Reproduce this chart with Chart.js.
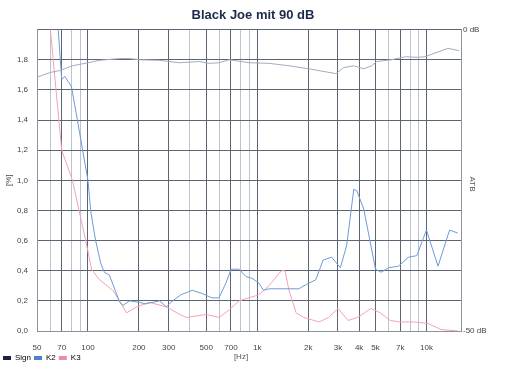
<!DOCTYPE html>
<html>
<head>
<meta charset="utf-8">
<script src="https://cdn.jsdelivr.net/npm/chart.js@4/dist/chart.umd.min.js"></script>
<style>
    html, body { margin: 0; padding: 0; background: #fff; }
</style>
</head>
<body>
<canvas id="chart" width="506" height="377"></canvas>
<script>
// x axis: grid lines and labelled frequencies
const gridFreqs = [50, 60, 70, 80, 90, 100, 200, 300, 400, 500, 600, 700, 800, 900,
    1000, 2000, 3000, 4000, 5000, 6000, 7000, 8000, 9000, 10000];
const labelFreqs = [50, 70, 100, 200, 300, 500, 700, 1000, 2000, 3000, 4000, 5000, 7000, 10000];
const labelTexts = ['50', '70', '100', '200', '300', '500', '700', '1k', '2k', '3k', '4k', '5k', '7k', '10k'];

// Sign: level in dB (right axis)
const signFreq = [50, 60, 68, 81, 100, 117, 154, 176, 202, 265, 348, 455, 520, 595, 684, 900,
    1175, 1540, 2020, 2310, 2916, 3250, 3720, 4260, 4750, 5090, 6200, 7500, 8900, 9800, 13400, 15600];
const signDb = [-7.9, -7.1, -6.8, -6.0, -5.5, -5.1, -4.8, -4.8, -5.0, -5.1, -5.5, -5.3, -5.6, -5.5, -5.0, -5.5,
    -5.6, -6.0, -6.5, -6.8, -7.3, -6.3, -6.0, -6.5, -6.0, -5.3, -5.0, -4.5, -4.6, -4.5, -3.1, -3.5];

// K2 distortion in %
const k2Freq = [58, 62, 70, 73, 80, 100, 104, 111, 119, 125, 134, 154, 161, 176, 202, 218, 265, 291, 309,
    353, 413, 470, 540, 595, 654, 702, 781, 860, 930, 1020, 1090, 1175, 1340, 1540, 1760, 1960, 2220,
    2450, 2750, 3100, 3380, 3720, 3880, 4260, 5000, 5400, 5980, 6830, 7850, 8770, 10000, 11700, 13700, 15300];
const k2Val = [3.4, 2.5, 1.67, 1.69, 1.62, 1.0, 0.79, 0.6, 0.45, 0.39, 0.37, 0.19, 0.17, 0.2, 0.19, 0.18, 0.2, 0.16, 0.19,
    0.24, 0.27, 0.25, 0.22, 0.22, 0.32, 0.41, 0.41, 0.36, 0.35, 0.32, 0.27, 0.28, 0.28, 0.28, 0.28, 0.31, 0.34,
    0.47, 0.49, 0.42, 0.57, 0.94, 0.93, 0.81, 0.41, 0.39, 0.42, 0.43, 0.49, 0.5, 0.67, 0.43, 0.67, 0.65];

// K3 distortion in %
const k3Freq = [54, 60, 66, 70, 81, 91, 100, 105, 117, 140, 154, 169, 194, 230, 291, 348, 381, 437, 500,
    595, 684, 781, 895, 1020, 1175, 1390, 1460, 1540, 1700, 1880, 2320, 2640, 3010, 3440, 3920, 4700,
    5350, 6110, 6980, 8400, 10200, 12200, 15300];
const k3Val = [2.6, 2.0, 1.5, 1.2, 1.0, 0.74, 0.53, 0.41, 0.34, 0.27, 0.2, 0.12, 0.16, 0.19, 0.16, 0.11, 0.09, 0.1, 0.11,
    0.09, 0.14, 0.2, 0.22, 0.24, 0.3, 0.4, 0.4, 0.27, 0.12, 0.09, 0.06, 0.09, 0.15, 0.07, 0.09, 0.15,
    0.12, 0.07, 0.06, 0.06, 0.05, 0.01, 0.0];

const legendColors = ['#1b2140', '#4f7fd0', '#ee8aa8'];

function toPoints(xs, ys) {
    return xs.map((x, i) => ({ x: x, y: ys[i] }));
}

// extra texts: [Hz] and the rotated right axis caption
const extraText = {
    id: 'extraText',
    afterDraw(chart) {
        const ctx = chart.ctx;
        ctx.save();
        ctx.fillStyle = '#555';
        ctx.font = '8px "Liberation Sans", Arial, sans-serif';
        ctx.textAlign = 'center';
        ctx.textBaseline = 'middle';
        ctx.fillText('[Hz]', 241, 357);
        ctx.translate(472, 184);
        ctx.rotate(Math.PI / 2);
        ctx.fillText('ATB', 0, 0);
        ctx.restore();
    }
};

const font = { family: '"Liberation Sans", Arial, sans-serif', size: 8 };

new Chart(document.getElementById('chart'), {
    type: 'line',
    data: {
        datasets: [{
            label: 'Sign',
            data: toPoints(signFreq, signDb),
            yAxisID: 'y1',
            borderColor: '#a3abbb',
            backgroundColor: legendColors[0]
        }, {
            label: 'K2',
            data: toPoints(k2Freq, k2Val),
            yAxisID: 'y',
            borderColor: '#6e9ad6',
            backgroundColor: legendColors[1]
        }, {
            label: 'K3',
            data: toPoints(k3Freq, k3Val),
            yAxisID: 'y',
            borderColor: '#f2a2b6',
            backgroundColor: legendColors[2]
        }]
    },
    options: {
        responsive: false,
        animation: false,
        devicePixelRatio: 1,
        layout: { padding: { bottom: 5 } },
        elements: {
            line: { borderWidth: 1, tension: 0 },
            point: { radius: 0 }
        },
        plugins: {
            title: {
                display: true,
                text: 'Black Joe mit 90 dB',
                color: '#1c2a4a',
                font: { family: '"Liberation Sans", Arial, sans-serif', size: 13, weight: 'bold' },
                padding: { top: 8, bottom: 6 }
            },
            legend: {
                position: 'bottom',
                align: 'start',
                labels: {
                    boxWidth: 8,
                    boxHeight: 4,
                    padding: 3,
                    color: '#333',
                    font: font,
                    generateLabels: function(chart) {
                        return chart.data.datasets.map((ds, i) => ({
                            text: ds.label,
                            fillStyle: legendColors[i],
                            strokeStyle: legendColors[i],
                            lineWidth: 0,
                            datasetIndex: i
                        }));
                    }
                }
            },
            tooltip: { enabled: false }
        },
        scales: {
            x: {
                type: 'logarithmic',
                min: 50,
                max: 16000,
                afterFit: function(scale) { scale.height = 20; },
                afterBuildTicks: function(scale) {
                    scale.ticks = gridFreqs.map(v => ({ value: v }));
                },
                ticks: {
                    autoSkip: false,
                    maxRotation: 0,
                    padding: 12,
                    color: '#444',
                    font: font,
                    callback: function(value) {
                        const i = labelFreqs.indexOf(value);
                        return i >= 0 ? labelTexts[i] : '';
                    }
                },
                grid: {
                    drawTicks: false,
                    color: function(ctx) {
                        const v = ctx.tick ? ctx.tick.value : 0;
                        return labelFreqs.indexOf(v) >= 0 ? '#5d6474' : '#bcc3d0';
                    }
                },
                border: { color: '#8a909c' }
            },
            y: {
                position: 'left',
                min: 0,
                max: 2,
                afterFit: function(scale) { scale.width = 37; },
                ticks: {
                    stepSize: 0.2,
                    padding: 9,
                    color: '#444',
                    font: font,
                    callback: function(value) {
                        return value > 1.99 ? '' : value.toFixed(1).replace('.', ',');
                    }
                },
                grid: { drawTicks: false, color: '#5d6474' },
                border: { color: '#8a909c' },
                title: { display: true, text: '[%]', color: '#444', font: font, padding: 4 }
            },
            y1: {
                position: 'right',
                min: -50,
                max: 0,
                afterFit: function(scale) { scale.width = 45; },
                afterBuildTicks: function(scale) {
                    scale.ticks = [{ value: -50 }, { value: 0 }];
                },
                ticks: {
                    padding: 2,
                    color: '#444',
                    font: font,
                    callback: function(value) { return value + ' dB'; }
                },
                grid: { drawOnChartArea: false, drawTicks: false },
                border: { color: '#8a909c' }
            }
        }
    },
    plugins: [extraText]
});
</script>
</body>
</html>
